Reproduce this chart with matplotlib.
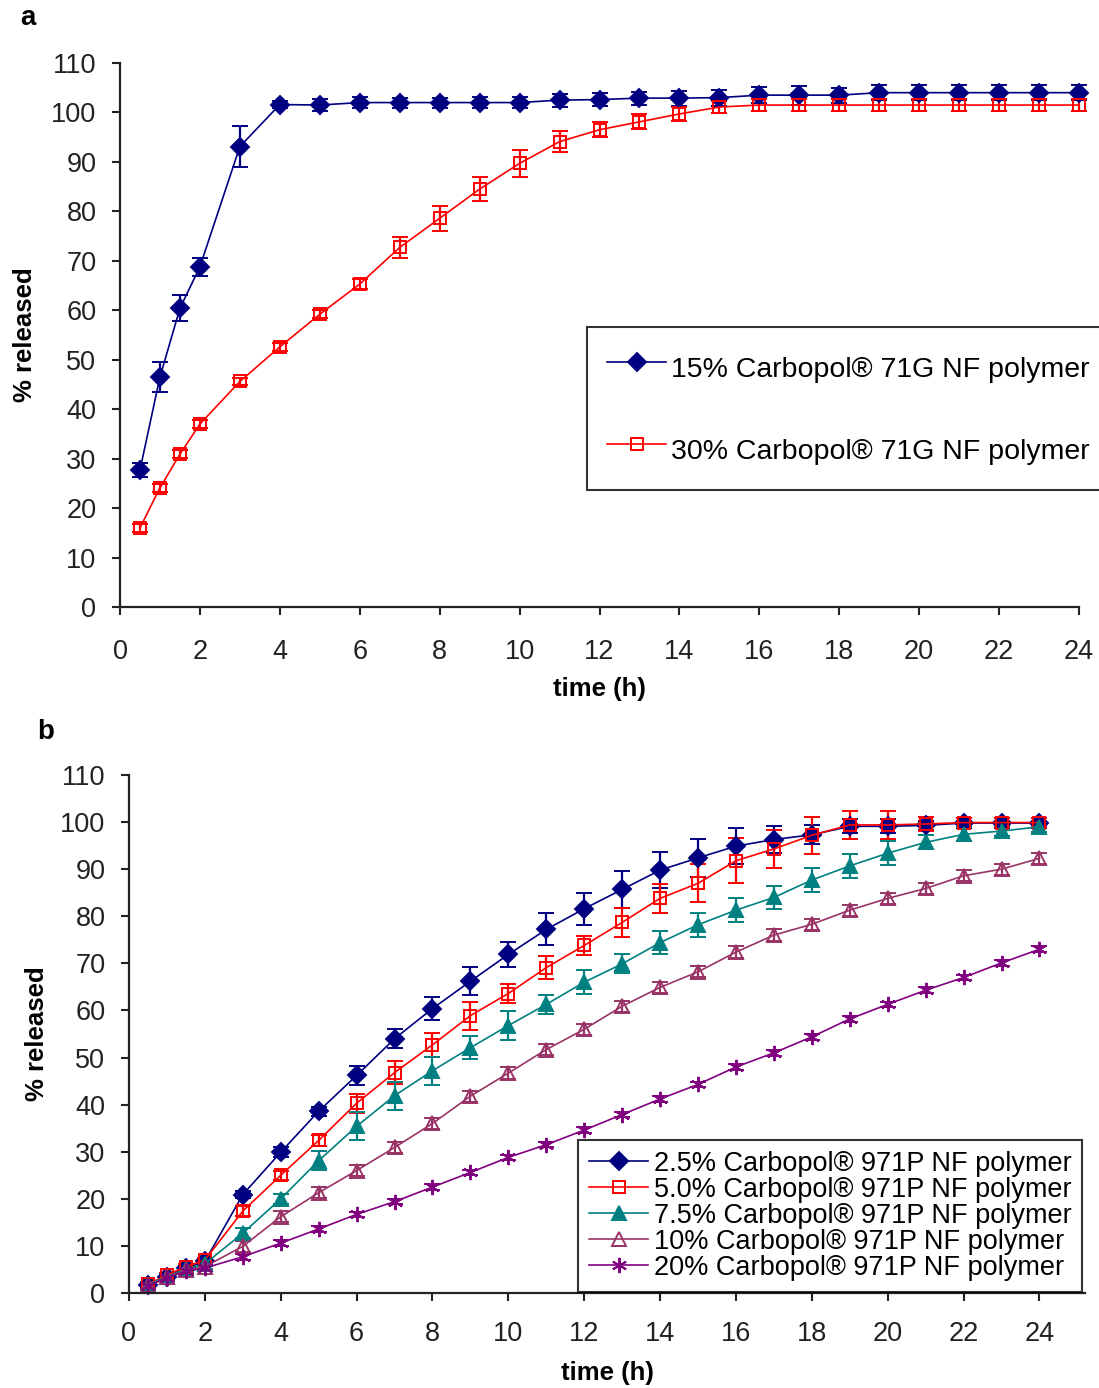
import matplotlib
matplotlib.use("Agg")
import matplotlib.pyplot as plt
import numpy as np

plt.rcParams['font.family'] = ['Liberation Sans', 'DejaVu Sans']

# sampling times (h), same for both panels
time_h = [0.5, 1, 1.5, 2, 3, 4, 5, 6, 7, 8, 9, 10, 11, 12, 13, 14, 15, 16,
          17, 18, 19, 20, 21, 22, 23, 24]

# panel a: Carbopol 71G
c71_15 = [27.7, 46.5, 60.4, 68.8, 93.1, 101.6, 101.5, 102.0, 102.0, 102.0, 102.0, 102.0, 102.5,
          102.6, 102.9, 102.9, 103.0, 103.5, 103.5, 103.5, 104.0, 104.0, 104.0, 104.0, 104.0, 104.0]
c71_15_err = [1.5, 3.0, 2.6, 1.8, 4.2, 0.8, 1.2, 1.2, 1.0, 1.0, 1.2, 1.2, 1.3,
              1.3, 1.3, 1.5, 1.6, 1.6, 1.9, 1.5, 1.5, 1.5, 1.5, 1.5, 1.5, 1.5]
c71_30 = [16.0, 24.1, 30.9, 37.0, 45.6, 52.6, 59.2, 65.3, 72.7, 78.6, 84.5, 89.7, 94.1,
          96.5, 98.1, 99.7, 101.1, 101.5, 101.5, 101.5, 101.5, 101.5, 101.5, 101.5, 101.5, 101.5]
c71_30_err = [0.8, 0.8, 0.8, 0.8, 0.8, 0.8, 0.8, 1.0, 2.1, 2.5, 2.4, 2.8, 2.1,
              1.5, 1.5, 1.5, 1.2, 1.2, 1.2, 1.2, 1.2, 1.2, 1.2, 1.2, 1.2, 1.2]

# panel b: Carbopol 971P
c971_25 = [1.7, 3.5, 5.3, 6.7, 20.9, 29.9, 38.6, 46.2, 54.0, 60.4, 66.2, 71.9, 77.2,
           81.6, 85.7, 89.8, 92.4, 94.9, 96.3, 97.3, 99.1, 99.1, 99.3, 99.8, 99.8, 99.8]
c971_25_err = [0.5, 0.5, 0.5, 0.5, 0.8, 1.0, 1.0, 2.0, 2.0, 2.5, 3.0, 2.7, 3.4,
               3.4, 4.0, 3.9, 4.0, 3.8, 2.8, 2.0, 1.5, 1.5, 1.0, 1.0, 1.0, 1.0]
c971_50 = [1.9, 3.8, 5.6, 7.0, 17.4, 25.0, 32.4, 40.3, 46.8, 52.7, 58.9, 63.6, 69.1,
           73.8, 78.7, 83.8, 87.0, 91.8, 94.3, 97.2, 99.4, 99.4, 99.6, 99.9, 99.9, 99.9]
c971_50_err = [0.5, 0.5, 0.5, 0.5, 1.0, 1.0, 1.2, 2.0, 2.5, 2.5, 3.0, 2.0, 2.5,
               2.0, 3.0, 3.0, 4.0, 4.8, 4.0, 3.9, 3.0, 3.0, 1.5, 1.0, 1.0, 1.0]
c971_75 = [1.8, 3.5, 5.0, 6.2, 12.7, 20.0, 28.1, 35.4, 41.9, 47.2, 52.1, 56.8, 61.3,
           66.0, 69.9, 74.4, 78.2, 81.3, 84.0, 87.7, 90.7, 93.4, 95.7, 97.4, 98.1, 99.0]
c971_75_err = [0.5, 0.5, 0.5, 0.5, 1.0, 1.0, 2.0, 3.0, 3.0, 3.0, 2.5, 3.0, 2.0,
               2.5, 2.0, 2.5, 2.5, 2.5, 2.5, 2.5, 2.5, 2.5, 1.5, 1.5, 1.0, 1.0]
c971_10 = [1.6, 3.3, 4.8, 5.6, 9.9, 16.2, 21.3, 26.0, 30.9, 36.0, 41.8, 46.7, 51.7,
           56.0, 60.9, 64.9, 68.2, 72.4, 76.0, 78.3, 81.3, 83.8, 85.9, 88.6, 90.0, 92.3]
c971_10_err = [0.5, 0.5, 0.5, 0.5] + [1.2] * 22
c971_20 = [1.5, 3.2, 4.6, 5.3, 7.7, 10.6, 13.6, 16.7, 19.4, 22.5, 25.6, 28.8, 31.5,
           34.6, 37.9, 41.2, 44.3, 48.0, 51.0, 54.4, 58.2, 61.3, 64.3, 67.0, 70.1, 73.0]
c971_20_err = [0.6] * 26

labels_a = ["15% Carbopol® 71G NF polymer", "30% Carbopol® 71G NF polymer"]
labels_b = ["2.5% Carbopol® 971P NF polymer", "5.0% Carbopol® 971P NF polymer",
            "7.5% Carbopol® 971P NF polymer", "10% Carbopol® 971P NF polymer",
            "20% Carbopol® 971P NF polymer"]

W, H = 1099, 1388
fig = plt.figure(figsize=(W / 100, H / 100), dpi=100)

def px_axes(left, right, top, bottom):
    return fig.add_axes([left / W, 1 - bottom / H, (right - left) / W, (bottom - top) / H])

def style(ax, xmax, xpad, xlpad, ylpad):
    ax.set_xlim(0, xmax)
    ax.set_ylim(0, 110)
    ax.set_xticks(range(0, 25, 2))
    ax.set_yticks(range(0, 111, 10))
    for s in ["top", "right"]:
        ax.spines[s].set_visible(False)
    for s in ["left", "bottom"]:
        ax.spines[s].set_linewidth(1.6)
        ax.spines[s].set_color("#222222")
    ax.tick_params(direction="out", length=6, width=1.5, labelsize=19.5, colors="#222222")
    ax.tick_params(axis="x", pad=xpad)
    ax.tick_params(axis="y", pad=11)
    ax.set_xlabel("time (h)", fontsize=18.5, fontweight="bold", labelpad=xlpad)
    ax.set_ylabel("% released", fontsize=18.5, fontweight="bold", labelpad=ylpad)

def series(ax, y, e, color, marker, filled, label, ms=9):
    ax.errorbar(time_h, y, yerr=e, color=color, lw=1.2, marker=marker, ms=ms,
                mfc=color if filled else "none", mec=color, mew=1.4,
                capsize=6, capthick=1.6, elinewidth=1.6, label=label, clip_on=False)

# ---- panel a
ax1 = px_axes(120, 1079, 63, 607)
style(ax1, 24, 17, 9, 10)
series(ax1, c71_15, c71_15_err, "#000080", "D", True, labels_a[0], ms=9)
series(ax1, c71_30, c71_30_err, "#FF0000", "s", False, labels_a[1], ms=8.5)
h, l = ax1.get_legend_handles_labels()
leg = fig.legend([x[0] for x in h], l, loc="upper left", bbox_to_anchor=(587 / W, 1 - 327 / H),
                 fontsize=20.5, frameon=True, fancybox=False, edgecolor="black",
                 handlelength=2.1, handletextpad=0.15, labelspacing=1.4, handleheight=1.9,
                 borderpad=0.69, borderaxespad=0)
leg.get_frame().set_linewidth(1.5)
fig.text(20 / W, 1 - 18 / H, "a", fontsize=20, fontweight="bold", va="center")

# ---- panel b
ax2 = px_axes(129, 1085, 775, 1293)
style(ax2, 25.2, 14, 10, 8)
series(ax2, c971_25, c971_25_err, "#000080", "D", True, labels_b[0], ms=9)
series(ax2, c971_50, c971_50_err, "#FF0000", "s", False, labels_b[1], ms=8.5)
series(ax2, c971_75, c971_75_err, "#008080", "^", True, labels_b[2], ms=9.5)
series(ax2, c971_10, c971_10_err, "#993366", "^", False, labels_b[3], ms=9.5)
series(ax2, c971_20, c971_20_err, "#800080", (6, 2, 0), False, labels_b[4], ms=11)
h, l = ax2.get_legend_handles_labels()
leg2 = fig.legend([x[0] for x in h], l, loc="upper left", bbox_to_anchor=(578 / W, 1 - 1140 / H),
                  fontsize=19.5, frameon=True, fancybox=False, edgecolor="black",
                  handlelength=2.2, handletextpad=0.2, labelspacing=0.0,
                  borderpad=0.4, borderaxespad=0)
leg2.get_frame().set_linewidth(1.5)
fig.text(37 / W, 1 - 732 / H, "b", fontsize=20, fontweight="bold", va="center")

fig.savefig("out.png", dpi=100)
